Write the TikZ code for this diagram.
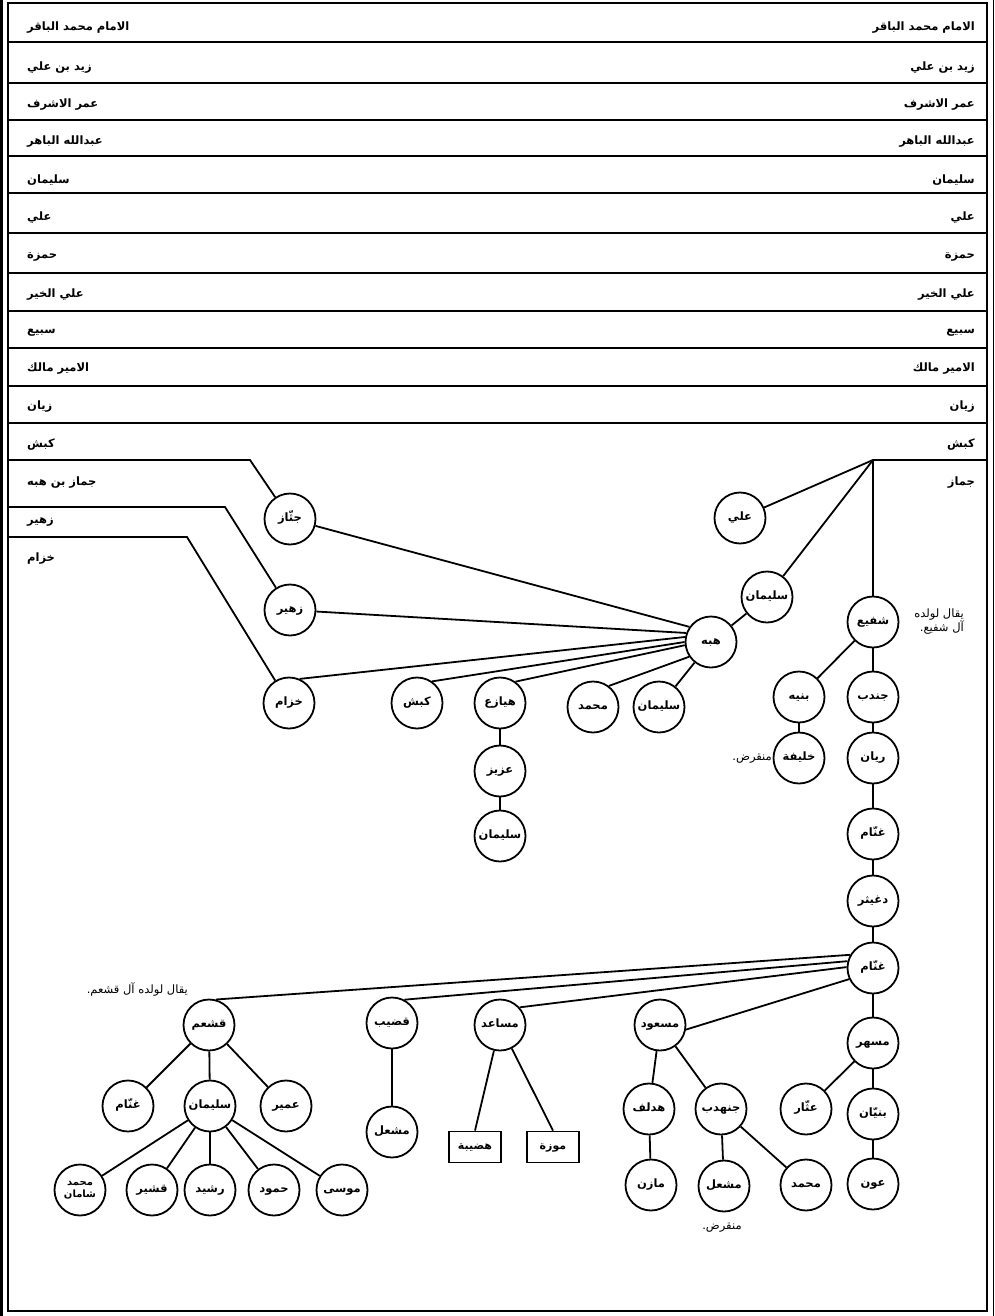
\documentclass[tikz,border=0pt]{standalone}
\usepackage{fontspec}
\TeXXeTstate=1
\newfontfamily\ar[Script=Arabic]{DejaVu Sans}
\newcommand\RL[1]{\beginR #1\endR}
\begin{document}
\begin{tikzpicture}[x=1pt,y=-1pt,
  ln/.style={line width=1.8pt},
  pn/.style={circle, draw, line width=1.8pt, minimum size=51pt, inner sep=0pt, text height=5pt, text depth=1pt, font=\ar\bfseries\fontsize{11.5}{12}\selectfont, align=center},
  bx/.style={rectangle, draw, line width=1.8pt, minimum width=52pt, minimum height=31pt, inner sep=0pt, text height=5pt, text depth=1pt, font=\ar\bfseries\fontsize{11}{12}\selectfont},
  labl/.style={font=\ar\bfseries\fontsize{11.5}{13}\selectfont, inner sep=0pt, anchor=west, yshift=-3pt},
  labr/.style={font=\ar\bfseries\fontsize{11.5}{13}\selectfont, inner sep=0pt, anchor=east, yshift=-3pt},
  note/.style={font=\ar\fontsize{11.5}{14}\selectfont, inner sep=0pt, align=right}]
\useasboundingbox (0,0) rectangle (995,1316);
% frame
\draw[ln] (8,3) rectangle (987,1311);
\draw[line width=3pt] (1.5,0) -- (1.5,1316);
\draw[line width=1pt] (993,0) -- (993,1316);
% row separators
\foreach \yy in {42,83,120,156,193,233,273,311,348,386,423}
  \draw[ln] (8,\yy) -- (987,\yy);
% row labels left
\node[labl] (l1) at (27,25) {\RL{الامام محمد الباقر}};
\node[labl] (l2) at (27,65) {\RL{زيد بن علي}};
\node[labl] (l3) at (27,102) {\RL{عمر الاشرف}};
\node[labl] (l4) at (27,139) {\RL{عبدالله الباهر}};
\node[labl] (l5) at (27,177) {\RL{سليمان}};
\node[labl] (l6) at (27,215) {\RL{علي}};
\node[labl] (l7) at (27,254) {\RL{حمزة}};
\node[labl] (l8) at (27,292) {\RL{علي الخير}};
\node[labl] (l9) at (27,330) {\RL{سبيع}};
\node[labl] (l10) at (27,366) {\RL{الامير مالك}};
\node[labl] (l11) at (27,404) {\RL{زيان}};
\node[labl] (l12) at (27,442) {\RL{كبش}};
\node[labl] (l13) at (27,480) {\RL{جماز بن هبه}};
\node[labl] (l14) at (27,519) {\RL{زهير}};
\node[labl] (l15) at (27,556) {\RL{خزام}};
% row labels right
\node[labr] (r1) at (975,25) {\RL{الامام محمد الباقر}};
\node[labr] (r2) at (975,65) {\RL{زيد بن علي}};
\node[labr] (r3) at (975,102) {\RL{عمر الاشرف}};
\node[labr] (r4) at (975,139) {\RL{عبدالله الباهر}};
\node[labr] (r5) at (975,177) {\RL{سليمان}};
\node[labr] (r6) at (975,215) {\RL{علي}};
\node[labr] (r7) at (975,254) {\RL{حمزة}};
\node[labr] (r8) at (975,292) {\RL{علي الخير}};
\node[labr] (r9) at (975,330) {\RL{سبيع}};
\node[labr] (r10) at (975,366) {\RL{الامير مالك}};
\node[labr] (r11) at (975,404) {\RL{زيان}};
\node[labr] (r12) at (975,442) {\RL{كبش}};
\node[labr] (r13) at (975,480) {\RL{جماز}};
% person nodes
\node[pn] (jth) at (290,519) {\RL{جثّاز}};
\node[pn] (zuh) at (290,610) {\RL{زهير}};
\node[pn] (khz) at (289,703) {\RL{خزام}};
\node[pn] (kbs) at (417,703) {\RL{كبش}};
\node[pn] (hyz) at (500,703) {\RL{هيازع}};
\node[pn] (aziz) at (500,771) {\RL{عزيز}};
\node[pn] (sulA) at (500,836) {\RL{سليمان}};
\node[pn] (mhdA) at (593,707) {\RL{محمد}};
\node[pn] (sulB) at (659,707) {\RL{سليمان}};
\node[pn] (hbh) at (711,642) {\RL{هبه}};
\node[pn] (ali) at (740,518) {\RL{علي}};
\node[pn] (sulC) at (767,597) {\RL{سليمان}};
\node[pn] (shf) at (873,622) {\RL{شفيع}};
\node[pn] (bnh) at (799,697) {\RL{بنيه}};
\node[pn] (khl) at (799,758) {\RL{خليفة}};
\node[pn] (jnd) at (873,697) {\RL{جندب}};
\node[pn] (ryn) at (873,758) {\RL{ريان}};
\node[pn] (gnmA) at (873,834) {\RL{غنّام}};
\node[pn] (dgh) at (873,901) {\RL{دغيثر}};
\node[pn] (gnmB) at (873,968) {\RL{غنّام}};
\node[pn] (msh) at (873,1043) {\RL{مسهر}};
\node[pn] (ath) at (806,1109) {\RL{عثّار}};
\node[pn] (bny) at (873,1114) {\RL{بنيّان}};
\node[pn] (awn) at (873,1184) {\RL{عون}};
\node[pn] (msd) at (660,1025) {\RL{مسعود}};
\node[pn] (hdl) at (649,1109) {\RL{هدلف}};
\node[pn] (jnh) at (721,1109) {\RL{جنهدب}};
\node[pn] (mzn) at (651,1185) {\RL{مازن}};
\node[pn] (mslA) at (724,1186) {\RL{مشعل}};
\node[pn] (mhdB) at (806,1185) {\RL{محمد}};
\node[pn] (msa) at (500,1025) {\RL{مساعد}};
\node[bx] (hdb) at (475,1147) {\RL{هضيبة}};
\node[bx] (mwz) at (553,1147) {\RL{موزة}};
\node[pn] (qdb) at (392,1023) {\RL{قضيب}};
\node[pn] (mslB) at (392,1132) {\RL{مشعل}};
\node[pn] (qsh) at (209,1025) {\RL{قشعم}};
\node[pn] (gnmC) at (128,1106) {\RL{غنّام}};
\node[pn] (sulD) at (210,1106) {\RL{سليمان}};
\node[pn] (umr) at (286,1106) {\RL{عمير}};
\node[pn, text height=, text depth=, font=\ar\bfseries\fontsize{10}{11.5}\selectfont] (mhs) at (80,1190) {\RL{محمد}\\\RL{شامان}};
\node[pn] (qsr) at (152,1190) {\RL{قشير}};
\node[pn] (rsh) at (210,1190) {\RL{رشيد}};
\node[pn] (hmd) at (274,1190) {\RL{حمود}};
\node[pn] (mus) at (342,1190) {\RL{موسى}};
% notes
\node[note, anchor=east] (n1) at (964,622) {\RL{يقال لولده}\\\RL{آل شفيع.}};
\node[note, anchor=east] (n2) at (772,759) {\RL{منقرض.}};
\node[note, anchor=east] (n3) at (188,989) {\RL{يقال لولده آل قشعم.}};
\node[note] (n4) at (722,1228) {\RL{منقرض.}};
% wires from the table
\coordinate (wa) at (8,460); \coordinate (wab) at (250,460);
\coordinate (wb) at (8,507); \coordinate (wbb) at (225,507);
\coordinate (wc) at (8,537); \coordinate (wcb) at (187,537);
\coordinate (J) at (873,460); \coordinate (wr) at (987,460);
\draw[ln] (wa) -- (wab) -- (jth);
\draw[ln] (wb) -- (wbb) -- (zuh);
\draw[ln] (wc) -- (wcb) -- (khz);
\draw[ln] (J) -- (wr);
\draw[ln] (J) -- (ali);
\draw[ln] (J) -- (sulC);
\draw[ln] (J) -- (shf);
% hbh family
\draw[ln] (sulC) -- (hbh);
\draw[ln] (hbh.145) -- (jth);
\draw[ln] (hbh.160) -- (zuh);
\draw[ln] (hbh.169) -- (khz.66);
\draw[ln] (hbh.180) -- (kbs.55);
\draw[ln] (hbh.187) -- (hyz.54);
\draw[ln] (hbh.214) -- (mhdA.53);
\draw[ln] (hbh) -- (sulB);
\draw[ln] (hyz) -- (aziz);
\draw[ln] (aziz) -- (sulA);
% shf family
\draw[ln] (shf) -- (bnh);
\draw[ln] (shf) -- (jnd);
\draw[ln] (bnh) -- (khl);
\draw[ln] (jnd) -- (ryn);
\draw[ln] (ryn) -- (gnmA);
\draw[ln] (gnmA) -- (dgh);
\draw[ln] (dgh) -- (gnmB);
% gnmB children
\draw[ln] (gnmB.150) -- (qsh.75);
\draw[ln] (gnmB.165) -- (qdb.62);
\draw[ln] (gnmB.178) -- (msa.42);
\draw[ln] (gnmB.205) -- (msd.350);
\draw[ln] (gnmB) -- (msh);
\draw[ln] (msh) -- (ath);
\draw[ln] (msh) -- (bny);
\draw[ln] (bny) -- (awn);
\draw[ln] (msd) -- (hdl);
\draw[ln] (msd) -- (jnh);
\draw[ln] (hdl) -- (mzn);
\draw[ln] (jnh) -- (mslA);
\draw[ln] (jnh) -- (mhdB);
\draw[ln] (msa) -- (hdb.north);
\draw[ln] (msa) -- (mwz.north);
\draw[ln] (qdb) -- (mslB);
\draw[ln] (qsh) -- (gnmC);
\draw[ln] (qsh) -- (sulD);
\draw[ln] (qsh) -- (umr);
\draw[ln] (sulD) -- (mhs);
\draw[ln] (sulD) -- (qsr);
\draw[ln] (sulD) -- (rsh);
\draw[ln] (sulD) -- (hmd);
\draw[ln] (sulD) -- (mus);
\end{tikzpicture}
\end{document}
